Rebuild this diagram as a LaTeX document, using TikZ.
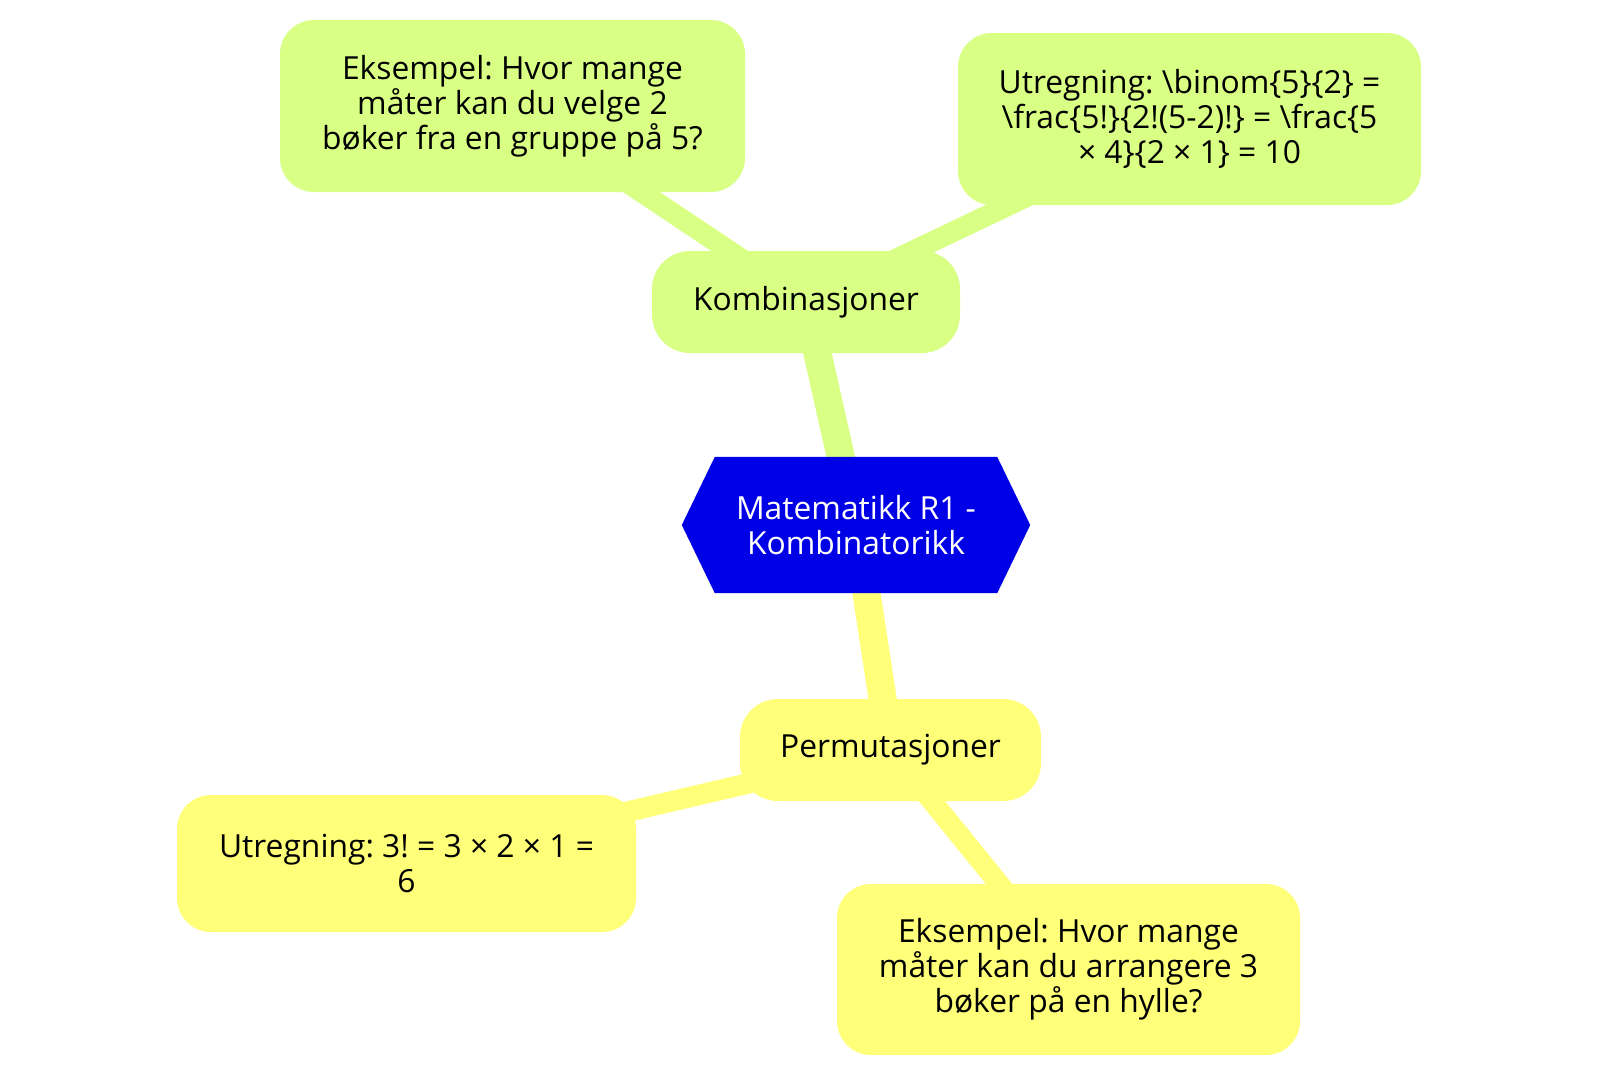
\documentclass[tikz,border=0pt]{standalone}
\usepackage{fontspec}
\setmainfont{Open Sans}
\usetikzlibrary{backgrounds}
\definecolor{cgreen}{HTML}{D9FF85}
\definecolor{cyellow}{HTML}{FFFF7A}
\definecolor{cblue}{HTML}{0000E6}
\frenchspacing
\begin{document}
\begin{tikzpicture}[x=1pt,y=-1pt,
  box/.style={rounded corners=34pt, inner sep=0pt, align=center, font=\fontsize{31.8}{35}\selectfont, text=black},
  gbox/.style={box, fill=cgreen},
  ybox/.style={box, fill=cyellow},
  edgeone/.style={line width=28pt},
  edgetwo/.style={line width=20.5pt},
]
\useasboundingbox (0,0) rectangle (1600,1076);
\node[inner sep=0pt, minimum width=348pt, minimum height=136pt, align=center, text=white, font=\fontsize{31.8}{35}\selectfont] (c) at (856,525) {Matematikk R1 -\\Kombinatorikk};
\node[gbox, minimum width=308pt, minimum height=102pt, rounded corners=38pt] (k) at (806,302) {Kombinasjoner};
\node[gbox, minimum width=465pt, minimum height=172pt] (e1) at (512.5,106) {Eksempel: Hvor mange\\måter kan du velge 2\\bøker fra en gruppe på 5?};
\node[gbox, minimum width=463pt, minimum height=172pt] (u1) at (1189.5,119) {Utregning: \textbackslash binom\{5\}\{2\} =\\\textbackslash frac\{5!\}\{2!(5-2)!\} = \textbackslash frac\{5\\× 4\}\{2 × 1\} = 10};
\node[ybox, minimum width=301pt, minimum height=102pt, rounded corners=38pt] (p) at (890.5,750) {Permutasjoner};
\node[ybox, minimum width=459pt, minimum height=137pt] (u2) at (406.5,863.5) {Utregning: 3! = 3 × 2 × 1 =\\6};
\node[ybox, minimum width=463pt, minimum height=171pt] (e2) at (1068.5,969.5) {Eksempel: Hvor mange\\måter kan du arrangere 3\\bøker på en hylle?};
\begin{scope}[on background layer]
\draw[edgeone, cgreen] (c.center) -- (k.center);
\draw[edgetwo, cgreen] (k.center) -- (e1.center);
\draw[edgetwo, cgreen] (k.center) -- (u1.center);
\draw[edgeone, cyellow] (c.center) -- (p.center);
\draw[edgetwo, cyellow] (p.center) -- (u2.center);
\draw[edgetwo, cyellow] (p.center) -- (e2.center);
\fill[cblue] (c.west) -- ([xshift=33pt]c.north west) -- ([xshift=-33pt]c.north east) -- (c.east) -- ([xshift=-33pt]c.south east) -- ([xshift=33pt]c.south west) -- cycle;
\end{scope}
\end{tikzpicture}
\end{document}
